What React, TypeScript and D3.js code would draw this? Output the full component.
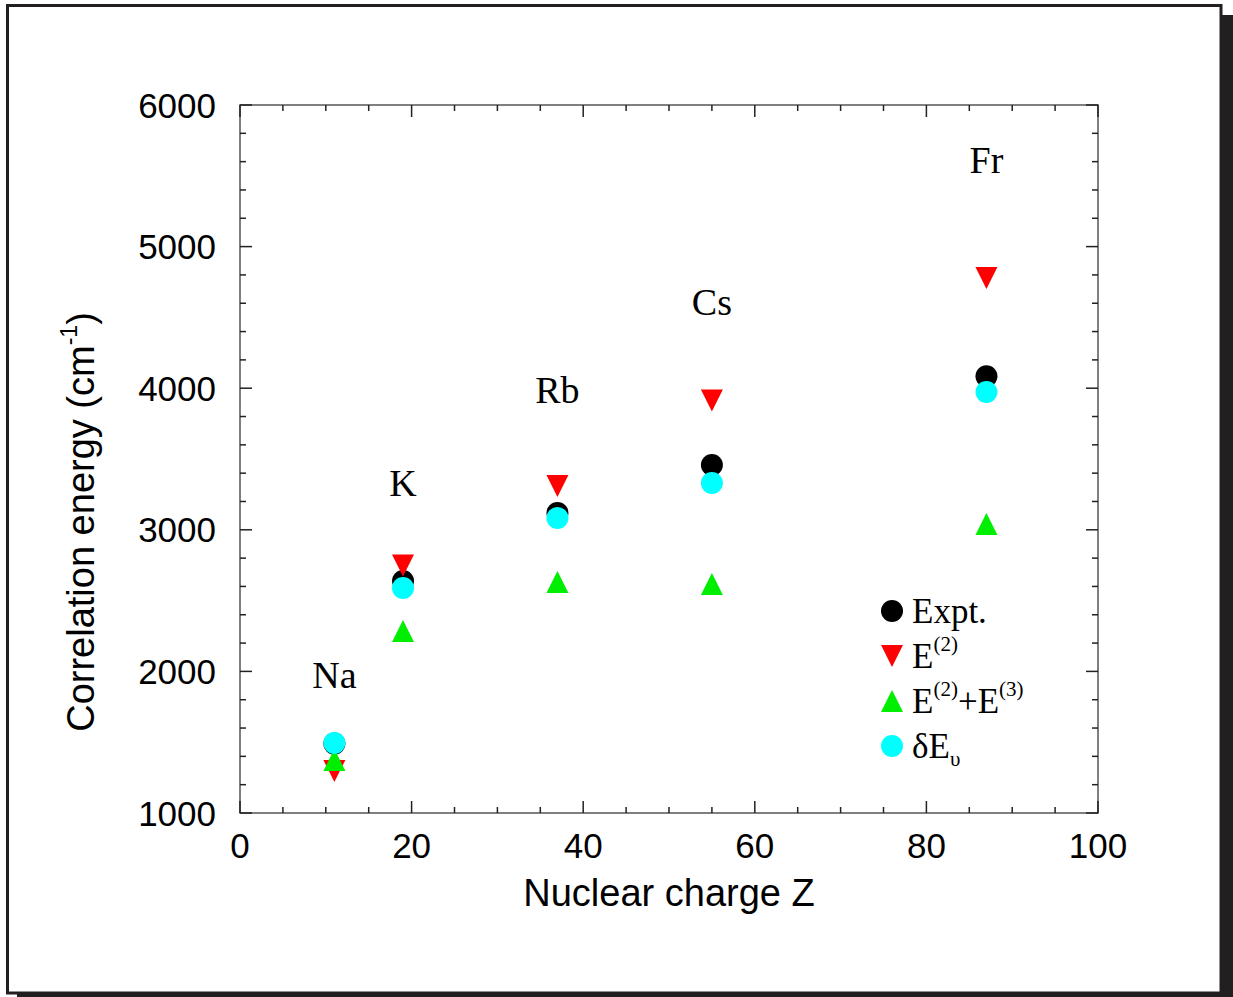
import React from "react";
import * as d3 from "d3";

const elements = ["Na", "K", "Rb", "Cs", "Fr"];
const charges = [11, 19, 37, 55, 87];
const expt = [1490, 2638, 3119, 3458, 4084];
const e2 = [1297, 2748, 3309, 3913, 4778];
const e23 = [1374, 2285, 2631, 2617, 3041];
const deltaE = [1494, 2589, 3083, 3331, 3973];
const labelY = [1883, 3239, 3895, 4517, 5519];
const xTicks = [0, 20, 40, 60, 80, 100];
const yTicks = [1000, 2000, 3000, 4000, 5000, 6000];

const W = 1233;
const H = 997;
const left = 240, right = 1098, top = 105, bottom = 813;

const x = d3.scaleLinear().domain([0, 100]).range([left, right]);
const y = d3.scaleLinear().domain([1000, 6000]).range([bottom, top]);

const SANS = "'Liberation Sans', Arial, Helvetica, sans-serif";
const SERIF = "'Liberation Serif', 'Times New Roman', serif";

const triDown = (cx: number, cy: number, s = 11) =>
  `M${cx - s},${cy - s}L${cx + s},${cy - s}L${cx},${cy + s}Z`;
const triUp = (cx: number, cy: number, s = 11) =>
  `M${cx - s},${cy + s}L${cx + s},${cy + s}L${cx},${cy - s}Z`;

export default function App() {
  const minorX = d3.range(0, 101, 5).filter((v) => v % 20 !== 0);
  const minorY = d3.range(1000, 6001, 200).filter((v) => v % 1000 !== 0);
  const axisColor = "#555";
  const legendX = 892;
  const legendRows = [611, 656, 701, 746];
  return (
    <svg
      width={W}
      height={H}
      style={{ position: "absolute", left: 0, top: 0, background: "#fff" }}
    >
      {/* frame with shadow */}
      <rect x={17} y={15} width={1216} height={990} fill="#231f20" />
      <rect x={7.5} y={5.5} width={1213.5} height={987.5} fill="#fff" stroke="#231f20" strokeWidth={3} />

      {/* plot box */}
      <rect x={left} y={top} width={right - left} height={bottom - top} fill="none" stroke={axisColor} strokeWidth={1.5} />

      {/* x ticks */}
      {xTicks.map((t) => (
        <g key={"xt" + t}>
          <line x1={x(t)} x2={x(t)} y1={bottom} y2={bottom - 12} stroke="#222" strokeWidth={1.5} />
          <line x1={x(t)} x2={x(t)} y1={top} y2={top + 12} stroke="#222" strokeWidth={1.5} />
          <text x={x(t)} y={bottom + 45} fontFamily={SANS} fontSize={35} textAnchor="middle" fill="#000">
            {t}
          </text>
        </g>
      ))}
      {minorX.map((t) => (
        <g key={"xm" + t}>
          <line x1={x(t)} x2={x(t)} y1={bottom} y2={bottom - 6} stroke="#222" strokeWidth={1.5} />
          <line x1={x(t)} x2={x(t)} y1={top} y2={top + 6} stroke="#222" strokeWidth={1.5} />
        </g>
      ))}
      {/* y ticks */}
      {yTicks.map((t) => (
        <g key={"yt" + t}>
          <line x1={left} x2={left + 12} y1={y(t)} y2={y(t)} stroke="#222" strokeWidth={1.5} />
          <line x1={right} x2={right - 12} y1={y(t)} y2={y(t)} stroke="#222" strokeWidth={1.5} />
          <text x={left - 24} y={y(t) + 12.5} fontFamily={SANS} fontSize={35} textAnchor="end" fill="#000">
            {t}
          </text>
        </g>
      ))}
      {minorY.map((t) => (
        <g key={"ym" + t}>
          <line x1={left} x2={left + 6} y1={y(t)} y2={y(t)} stroke="#222" strokeWidth={1.5} />
          <line x1={right} x2={right - 6} y1={y(t)} y2={y(t)} stroke="#222" strokeWidth={1.5} />
        </g>
      ))}

      {/* axis titles */}
      <text x={669} y={906} fontFamily={SANS} fontSize={38} textAnchor="middle" fill="#000">
        Nuclear charge Z
      </text>
      <text
        transform={`translate(94,522) rotate(-90)`}
        fontFamily={SANS}
        fontSize={38}
        textAnchor="middle"
        fill="#000"
      >
        Correlation energy (cm
        <tspan fontSize={23} dy={-17}>-1</tspan>
        <tspan dy={17}>)</tspan>
      </text>

      {/* element labels */}
      {elements.map((el, i) => (
        <text key={el} x={x(charges[i])} y={y(labelY[i])} fontFamily={SERIF} fontSize={38} textAnchor="middle" fill="#000">
          {el}
        </text>
      ))}

      {/* data */}
      {charges.map((z, i) => (
        <circle key={"ex" + i} cx={x(z)} cy={y(expt[i])} r={11} fill="#000" />
      ))}
      {charges.map((z, i) => (
        <path key={"e2" + i} d={triDown(x(z), y(e2[i]))} fill="#ff0000" />
      ))}
      {charges.map((z, i) => (
        <path key={"e23" + i} d={triUp(x(z), y(e23[i]))} fill="#00ee00" />
      ))}
      {charges.map((z, i) => (
        <circle key={"de" + i} cx={x(z)} cy={y(deltaE[i])} r={11} fill="#00ffff" />
      ))}

      {/* legend */}
      <circle cx={legendX} cy={legendRows[0]} r={11} fill="#000" />
      <path d={triDown(legendX, legendRows[1])} fill="#ff0000" />
      <path d={triUp(legendX, legendRows[2])} fill="#00ee00" />
      <circle cx={legendX} cy={legendRows[3]} r={11} fill="#00ffff" />
      <g fontFamily={SERIF} fontSize={35} fill="#000">
        <text x={912} y={legendRows[0] + 12}>Expt.</text>
        <text x={912} y={legendRows[1] + 12}>
          E<tspan fontSize={21} dy={-17}>(2)</tspan>
        </text>
        <text x={912} y={legendRows[2] + 12}>
          E<tspan fontSize={21} dy={-17}>(2)</tspan>
          <tspan dy={17}>+E</tspan>
          <tspan fontSize={21} dy={-17}>(3)</tspan>
        </text>
        <text x={912} y={legendRows[3] + 12}>
          δE<tspan fontSize={21} dy={8}>υ</tspan>
        </text>
      </g>
    </svg>
  );
}
